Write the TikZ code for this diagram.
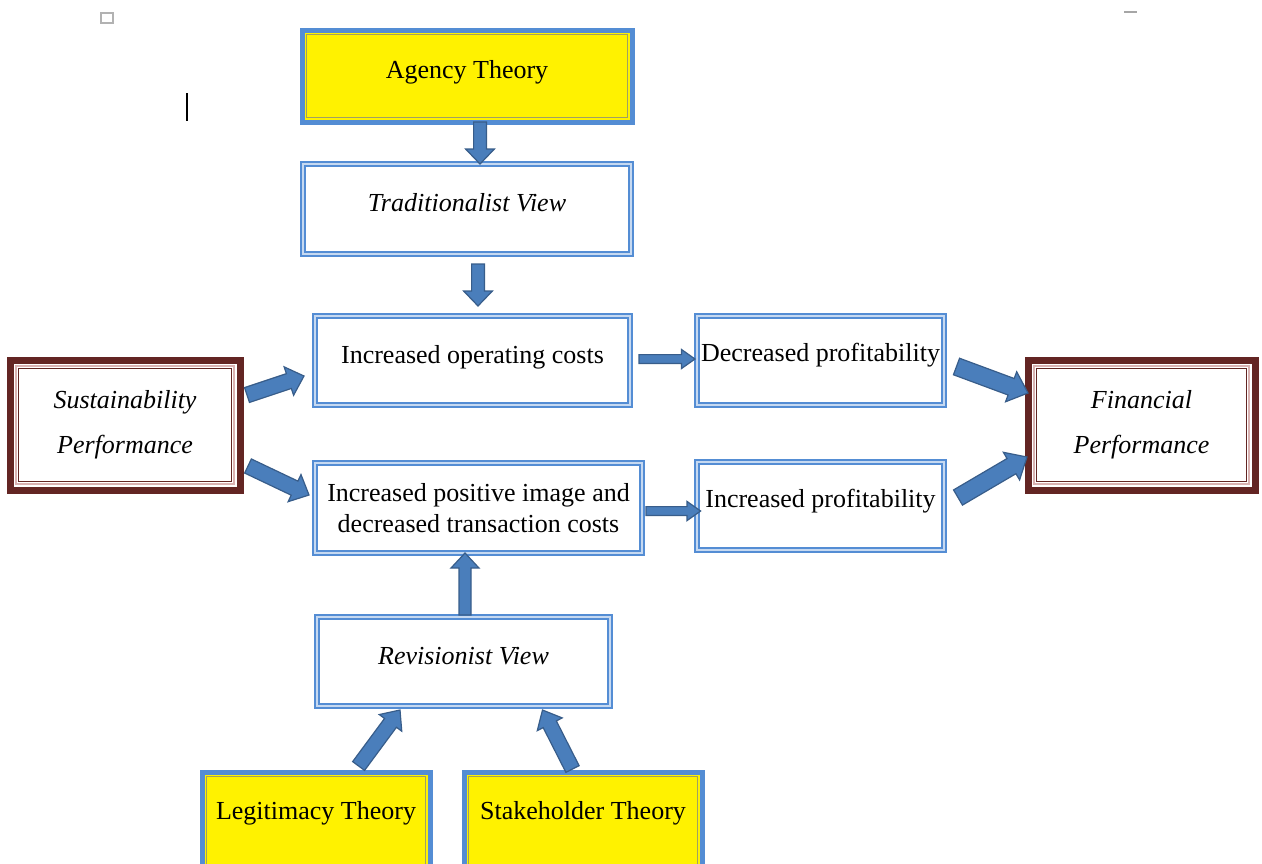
\documentclass[tikz,border=0pt]{standalone}
\usepackage{fontspec}
\setmainfont{Liberation Serif}
\usepackage{tikz}
\usetikzlibrary{positioning, calc}

\definecolor{boxblue}{RGB}{84,141,212}
\definecolor{paleblue}{RGB}{198,217,241}
\definecolor{arrowfill}{RGB}{74,126,187}
\definecolor{arrowline}{RGB}{56,93,138}
\definecolor{darkmaroon}{RGB}{99,37,35}
\definecolor{palemaroon}{RGB}{217,178,178}
\definecolor{olivegrey}{RGB}{160,160,100}

\tikzset{
    italictext/.style={font={\fontsize{13}{15.5}\selectfont\itshape}},
    raisetext/.style={text height=9pt, text depth=#1},
    raisetext/.default=7pt,
    viewbox/.style={rectangle, draw=boxblue, double=paleblue, line width=1pt, double distance=1.2pt, fill=white, inner sep=1pt, outer sep=0pt},
    theorybox/.style={rectangle, draw=boxblue, line width=2.5pt, fill=yellow, outer sep=0pt, raisetext},
    perfbox/.style={rectangle, draw=darkmaroon, line width=3.5pt, fill=white, outer sep=0pt, align=center, italictext},
    innerline/.style={draw=olivegrey, line width=0.5pt},
    arrowbody/.style={fill=arrowfill, draw=arrowline, line width=0.6pt, line join=miter}
}

% block arrow: start, end, half shaft, half head, head length
\newcommand{\blockarrow}[5]{%
    \coordinate (bs) at #1;
    \coordinate (be) at #2;
    \coordinate (bh) at ($(be)!#5!(bs)$);
    \filldraw[arrowbody] ($(bs)!#3!90:(be)$) -- ($(bh)!#3!90:(be)$) -- ($(bh)!#4!90:(be)$) -- (be)
        -- ($(bh)!#4!-90:(be)$) -- ($(bh)!#3!-90:(be)$) -- ($(bs)!#3!-90:(be)$) -- cycle;
}

\begin{document}
\begin{tikzpicture}[x=0.5pt, y=-0.5pt, font=\fontsize{13}{15.5}\selectfont]
    \useasboundingbox (0,0) rectangle (1262,863);

    % Theory boxes
    \node[theorybox, minimum width=165pt, minimum height=46pt] (agency) at (467,76) {Agency Theory};
    \node[theorybox, raisetext=12pt, minimum width=114pt, minimum height=50pt] (legit) at (316,822) {Legitimacy Theory};
    \node[theorybox, raisetext=12pt, minimum width=119pt, minimum height=50pt] (stake) at (583,822) {Stakeholder Theory};

    % View and effect boxes
    \node[viewbox, italictext, raisetext, below=21pt of agency, minimum width=164pt, minimum height=45pt] (trad) {Traditionalist View};
    \node[viewbox, raisetext=6pt, minimum width=157.5pt, minimum height=44.5pt] (ioc) at (472.5,360.5) {Increased operating costs};
    \node[viewbox, raisetext=8pt, right=33.5pt of ioc, minimum width=123.5pt, minimum height=44.5pt] (decprof) {Decreased profitability};
    \node[viewbox, align=center, minimum width=163.5pt, minimum height=45pt] (ipi) at (478.5,508) {Increased positive image and\\decreased transaction costs};
    \node[viewbox, raisetext=8pt, below=28.5pt of decprof, minimum width=123.5pt, minimum height=44pt] (incprof) {Increased profitability};
    \node[viewbox, italictext, raisetext=6pt, minimum width=146.5pt, minimum height=44.5pt] (rev) at (463.5,661.5) {Revisionist View};

    % Performance boxes
    \node[perfbox, minimum width=115pt, minimum height=65pt] (sust) at (125,425) {Sustainability\\[7pt]Performance};
    \node[perfbox, minimum width=113.5pt, minimum height=65pt] (fin) at (1141.5,425) {Financial\\[7pt]Performance};

    % Inner frame lines
    \foreach \n in {agency,legit,stake}
        \draw[innerline] ($(\n.south west)+(2.4pt,2.4pt)$) rectangle ($(\n.north east)+(-2.4pt,-2.4pt)$);
    \foreach \n in {sust,fin} {
        \draw[draw=palemaroon, line width=1pt] ($(\n.south west)+(3pt,3pt)$) rectangle ($(\n.north east)+(-3pt,-3pt)$);
        \draw[draw=darkmaroon, line width=0.6pt] ($(\n.south west)+(4.1pt,4.1pt)$) rectangle ($(\n.north east)+(-4.1pt,-4.1pt)$);
    }

    % Block arrows
    \blockarrow{($(agency.south)+(6.5pt,0pt)$)}{($(trad.north)+(6.5pt,0pt)$)}{3.2pt}{7.2pt}{7.5pt}
    \blockarrow{($(trad.south)+(5.5pt,-5pt)$)}{($(ioc.north)+(2.75pt,5pt)$)}{3.2pt}{7.2pt}{7.5pt}
    \blockarrow{($(sust.east)+(3.5pt,15pt)$)}{($(ioc.west)+(-5.5pt,-7.75pt)$)}{3.9pt}{7.5pt}{8pt}
    \blockarrow{($(sust.east)+(4pt,-20.5pt)$)}{($(ipi.west)+(-3pt,6.5pt)$)}{3.9pt}{7.5pt}{8pt}
    \blockarrow{($(ioc.east)+(4.5pt,0.75pt)$)}{($(decprof.west)+(-1pt,0.75pt)$)}{2.2pt}{4.8pt}{6.8pt}
    \blockarrow{($(ipi.east)+(2pt,-1.5pt)$)}{($(incprof.west)+(1.8pt,-2.5pt)$)}{2.2pt}{4.8pt}{6.8pt}
    \blockarrow{($(decprof.east)+(6.25pt,-3pt)$)}{($(fin.west)+(0pt,16pt)$)}{4.4pt}{8pt}{9pt}
    \blockarrow{($(incprof.east)+(7pt,4.25pt)$)}{($(fin.west)+(-0.5pt,-16pt)$)}{4.4pt}{8pt}{9pt}
    \blockarrow{($(rev.north)+(0.75pt,1pt)$)}{($(ipi.south)+(-6.75pt,0pt)$)}{3pt}{7pt}{7.5pt}
    \blockarrow{($(legit.north)+(21.3pt,3pt)$)}{($(rev.south)+(-31.75pt,-2pt)$)}{3.7pt}{7pt}{8pt}
    \blockarrow{($(stake.north)+(-5.25pt,1.5pt)$)}{($(rev.south)+(39.5pt,-2pt)$)}{3.7pt}{7pt}{8pt}

    % Page marks
    \draw[gray!60, line width=0.6pt] (101,13) rectangle (113,23);
    \draw[gray!70, line width=0.6pt] (1124,12) -- (1137,12);
    \draw[line width=0.8pt] (187,93) -- (187,121);
\end{tikzpicture}
\end{document}
